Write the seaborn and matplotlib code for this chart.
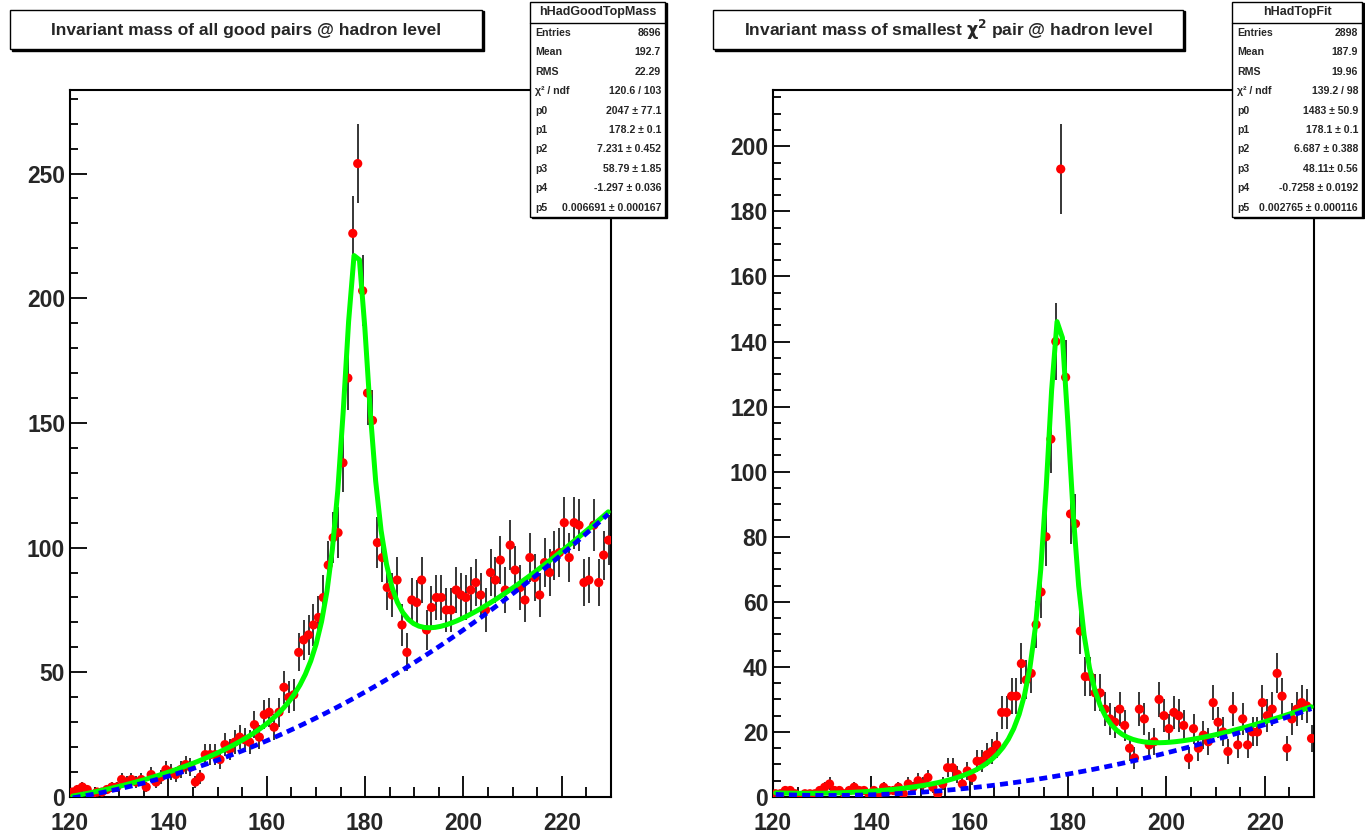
import numpy as np
import pandas as pd
import matplotlib
matplotlib.use("Agg")
import matplotlib.pyplot as plt
import seaborn as sns
from matplotlib.patches import Rectangle
from matplotlib.ticker import MultipleLocator

# counts per 1 GeV bin, 120-230
bin_edges = np.arange(120, 231, 1)

good_counts = [
    2, 3, 4, 3, 1, 2, 2, 3, 4, 4,
    7, 6, 7, 6, 7, 4, 9, 6, 8, 11,
    10, 9, 11, 13, 12, 6, 8, 17, 17, 17,
    15, 21, 19, 22, 24, 23, 22, 29, 24, 33,
    34, 28, 34, 44, 40, 41, 58, 63, 65, 69,
    72, 80, 93, 104, 106, 134, 168, 226, 254, 203,
    162, 151, 102, 96, 84, 81, 87, 69, 58, 79,
    78, 87, 67, 76, 80, 80, 75, 75, 83, 81,
    80, 83, 86, 81, 75, 90, 87, 95, 83, 101,
    91, 84, 79, 96, 88, 81, 94, 90, 97, 98,
    110, 96, 110, 109, 86, 87, 109, 86, 97, 103,
]

fit_counts = [
    1, 1, 2, 2, 1, 0, 1, 1, 1, 2,
    3, 4, 2, 2, 1, 2, 3, 2, 2, 1,
    2, 1, 3, 2, 2, 3, 1, 4, 3, 5,
    4, 6, 3, 1, 4, 9, 9, 7, 4, 8,
    6, 11, 11, 13, 14, 16, 26, 26, 31, 31,
    41, 36, 38, 53, 63, 80, 110, 140, 193, 129,
    87, 84, 51, 37, 37, 32, 32, 27, 24, 23,
    27, 22, 15, 12, 27, 24, 16, 17, 30, 25,
    21, 26, 25, 22, 12, 21, 15, 19, 17, 29,
    23, 20, 14, 27, 16, 24, 16, 20, 20, 29,
    25, 27, 38, 31, 15, 24, 27, 29, 28, 18,
]

# fit parameters (Breit-Wigner + quadratic background) from the stat boxes
good_pars = [2047, 178.2, 7.231, 58.79, -1.297, 0.006691]
fit_pars = [1483, 178.1, 6.687, 48.11, -0.7258, 0.002765]

good_title = "Invariant mass of all good pairs @ hadron level"
fit_title = r"Invariant mass of smallest $\mathrm{\chi}^{\mathbf{2}}$ pair @ hadron level"

good_name = "hHadGoodTopMass"
good_rows = [("Entries", "8696"), ("Mean", "192.7"), ("RMS", "22.29"),
             ("χ² / ndf", "120.6 / 103"), ("p0", "2047 ± 77.1"),
             ("p1", "178.2 ± 0.1"), ("p2", "7.231 ± 0.452"),
             ("p3", "58.79 ± 1.85"), ("p4", "-1.297 ± 0.036"),
             ("p5", "0.006691 ± 0.000167")]

fit_name = "hHadTopFit"
fit_rows = [("Entries", "2898"), ("Mean", "187.9"), ("RMS", "19.96"),
            ("χ² / ndf", "139.2 / 98"), ("p0", "1483 ± 50.9"),
            ("p1", "178.1 ± 0.1"), ("p2", "6.687 ± 0.388"),
            ("p3", "48.11± 0.56"), ("p4", "-0.7258 ± 0.0192"),
            ("p5", "0.002765 ± 0.000116")]

W, H = 1365, 835

sns.set_style("ticks")
plt.rcParams['font.family'] = ['Liberation Sans', 'DejaVu Sans']
plt.rcParams['font.weight'] = 'bold'
plt.rcParams['mathtext.fontset'] = 'dejavusans'


def background(x, p):
    return p[3] + p[4] * x + p[5] * x ** 2


def total(x, p):
    bw = p[2] / (2 * np.pi) / ((x - p[1]) ** 2 + p[2] ** 2 / 4)
    return p[0] * bw + background(x, p)


def draw_panel(ax, counts, pars, ymax, ymajor, yminor):
    df = pd.DataFrame({"mass": bin_edges[:-1] + 0.5, "count": counts})
    err = np.sqrt(df["count"])
    ax.errorbar(df["mass"], df["count"], yerr=err, fmt='none', ecolor='black',
                elinewidth=1.1, capsize=0, zorder=2)
    sns.scatterplot(data=df, x="mass", y="count", ax=ax, color='#ff0000',
                    s=44, edgecolor='none', zorder=3)

    # function sampled like ROOT does: 100 bin centres over the fit range
    xs = 120 + (np.arange(100) + 0.5) * 1.1
    curve = pd.DataFrame({"mass": xs, "total": total(xs, pars),
                          "bg": background(xs, pars)})
    sns.lineplot(data=curve, x="mass", y="total", ax=ax, color='#00ff00',
                 linewidth=3.6, zorder=4)
    sns.lineplot(data=curve, x="mass", y="bg", ax=ax, color='#0000ff',
                 linewidth=3.4, linestyle=(0, (1.7, 1.1)), zorder=5)

    ax.set_xlim(120, 230)
    ax.set_ylim(0, ymax)
    ax.set_xlabel("")
    ax.set_ylabel("")
    ax.xaxis.set_major_locator(MultipleLocator(20))
    ax.xaxis.set_minor_locator(MultipleLocator(5))
    ax.yaxis.set_major_locator(MultipleLocator(ymajor))
    ax.yaxis.set_minor_locator(MultipleLocator(yminor))
    ax.tick_params(which='both', direction='in', top=False, right=False,
                   labelsize=16.5, width=1.3, color='black')
    ax.tick_params(axis='x', which='major', length=15, pad=11)
    ax.tick_params(axis='x', which='minor', length=7.5)
    ax.tick_params(axis='y', which='major', length=12, pad=3.5)
    ax.tick_params(axis='y', which='minor', length=6)
    for lbl in ax.get_xticklabels() + ax.get_yticklabels():
        lbl.set_fontweight('bold')
    for sp in ax.spines.values():
        sp.set_visible(True)
        sp.set_linewidth(1.5)
        sp.set_color('black')


def box(fig, x0, y0, x1, y1):
    # ROOT style pave with a small shadow, pixel coords from top-left
    fig.add_artist(Rectangle(((x0 + 1.5) / W, 1 - (y1 + 1.5) / H), (x1 - x0) / W,
                             (y1 - y0) / H, transform=fig.transFigure,
                             facecolor='black', edgecolor='black', zorder=10))
    fig.add_artist(Rectangle((x0 / W, 1 - y1 / H), (x1 - x0) / W, (y1 - y0) / H,
                             transform=fig.transFigure, facecolor='white',
                             edgecolor='black', linewidth=1.0, zorder=11))


def title_box(fig, x0, x1, text):
    box(fig, x0, 10, x1, 49)
    fig.text((x0 + x1) / 2 / W, 1 - 30 / H, text, ha='center', va='center',
             fontsize=12.5, fontweight='bold', zorder=12)


def stat_box(fig, x0, x1, name, rows):
    y0, y1 = 2, 217
    box(fig, x0, y0, x1, y1)
    fig.text((x0 + x1) / 2 / W, 1 - 12.5 / H, name, ha='center', va='center',
             fontsize=9, fontweight='bold', zorder=12)
    fig.add_artist(plt.Line2D([x0 / W, x1 / W], [1 - 23 / H, 1 - 23 / H],
                              transform=fig.transFigure, color='black',
                              linewidth=1.0, zorder=12))
    for i, (label, value) in enumerate(rows):
        y = 1 - (33 + i * 19.4) / H
        fig.text((x0 + 5) / W, y, label, ha='left', va='center',
                 fontsize=7.6, fontweight='bold', zorder=12)
        fig.text((x1 - 4) / W, y, value, ha='right', va='center',
                 fontsize=7.6, fontweight='bold', zorder=12)


fig = plt.figure(figsize=(W / 100, H / 100), dpi=100)
fig.patch.set_facecolor('white')

ax1 = fig.add_axes([70 / W, (H - 797) / H, 541 / W, 707 / H])
ax2 = fig.add_axes([773 / W, (H - 797) / H, 541 / W, 707 / H])

draw_panel(ax1, good_counts, good_pars, 283.5, 50, 10)
draw_panel(ax2, fit_counts, fit_pars, 217.3, 20, 5)

title_box(fig, 10, 482, good_title)
title_box(fig, 713, 1183, fit_title)
stat_box(fig, 530, 665, good_name, good_rows)
stat_box(fig, 1232, 1362, fit_name, fit_rows)

fig.savefig("out.png", dpi=100, facecolor='white')
